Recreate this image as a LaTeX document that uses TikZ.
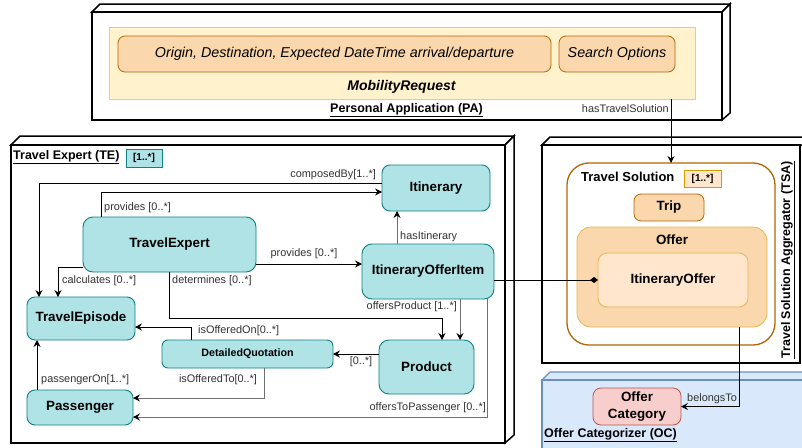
\documentclass[tikz,border=0pt]{standalone}
\usepackage{fontspec}
\setmainfont{Liberation Sans}
\usetikzlibrary{arrows.meta,calc}

\definecolor{tealfill}{HTML}{B0E3E6}
\definecolor{tealdraw}{HTML}{0E8088}
\definecolor{orfill}{HTML}{FAD7AC}
\definecolor{ordraw}{HTML}{B46504}
\definecolor{yelfill}{HTML}{FFF2CC}
\definecolor{yeldraw}{HTML}{E8CC80}
\definecolor{lightor}{HTML}{FFE6CC}
\definecolor{ordraw2}{HTML}{D79B00}
\definecolor{ioffdraw}{HTML}{E6B34D}
\definecolor{bluefill}{HTML}{DAE8FC}
\definecolor{bluedraw}{HTML}{6C8EBF}
\definecolor{redfill}{HTML}{F8CECC}
\definecolor{reddraw}{HTML}{B85450}
\definecolor{lblgray}{HTML}{333333}
\definecolor{linegray}{HTML}{707070}

\tikzset{
  tbox/.style={draw=tealdraw, fill=tealfill, rounded corners=8pt, line width=0.9pt,
    font=\fontsize{13.4pt}{16pt}\selectfont\bfseries, align=center, inner sep=0pt, outer sep=0pt},
  obox/.style={draw=ordraw, fill=orfill, rounded corners=7pt, line width=0.8pt, inner sep=0pt, outer sep=0pt},
  lbl/.style={font=\fontsize{10.9pt}{12pt}\selectfont, text=lblgray, inner sep=0pt},
  arr/.style={-{Stealth[length=7pt,width=7pt,inset=2.5pt]}, line width=0.8pt},
  garr/.style={arr, draw=linegray, -{Stealth[length=7pt,width=7pt,inset=2.5pt,color=black]}},
  cubeface/.style={draw=black, line width=1.5pt, fill=white, line join=miter},
  cubefront/.style={draw=black, line width=1.5pt, fill=white, inner sep=0pt, outer sep=0pt, anchor=north west},
  multbox/.style={inner sep=0pt, outer sep=0pt, font=\fontsize{10pt}{12pt}\selectfont\bfseries, line width=0.8pt},
  title/.style={font=\fontsize{12.5pt}{15pt}\selectfont\bfseries, inner sep=0pt},
}

\begin{document}
\begin{tikzpicture}[x=1pt,y=-1pt]
\useasboundingbox (0,0) rectangle (802,447);
\fill[white] (0,0) rectangle (802,447);

% ---------- Personal Application cube ----------
\draw[cubeface] (92,12) -- (100,4) -- (730,4) -- (722,12) -- cycle;
\draw[cubeface] (722,12) -- (730,4) -- (730,113) -- (722,120) -- cycle;
\node[cubefront, minimum width=630pt, minimum height=108pt] (pa) at (92,12) {};
\node[draw=yeldraw, fill=yelfill, line width=0.8pt, inner sep=0pt, outer sep=0pt,
      minimum width=586pt, minimum height=72pt, anchor=north west] (mreq) at (109,27) {};
\node[obox, minimum width=433pt, minimum height=36pt,
      font=\fontsize{14.3pt}{16pt}\selectfont\itshape] (origin) at (334.5,54)
      {Origin, Destination, Expected DateTime arrival/departure};
\node[obox, minimum width=116pt, minimum height=36pt,
      font=\fontsize{14.3pt}{16pt}\selectfont\itshape] (search) at (617,54) {Search Options};
\node[font=\fontsize{14pt}{16pt}\selectfont\bfseries\itshape, inner sep=0pt] (mreqlbl) at (401.5,87) {MobilityRequest};
\node[title] (palbl) at (406.5,110) {\underline{Personal Application (PA)}};

% ---------- Travel Expert cube ----------
\draw[cubeface] (11,145) -- (20,136) -- (514,136) -- (505,145) -- cycle;
\draw[cubeface] (505,145) -- (514,136) -- (514,435) -- (505,443) -- cycle;
\node[cubefront, minimum width=494pt, minimum height=298pt] (tebox) at (11,145) {};
\node[title, anchor=west] (telbl) at (13,157) {\underline{Travel Expert (TE)}};
\node[multbox, draw=tealdraw, fill=tealfill, minimum width=36pt, minimum height=18pt] (temult) at (144,158) {[1..*]};

% ---------- Travel Solution Aggregator cube ----------
\draw[cubeface] (542,145) -- (550,137) -- (812,137) -- (804,145) -- cycle;
\node[cubefront, minimum width=258pt, minimum height=218pt] (tsabox) at (542,145) {};
\node[title, rotate=90] (tsalbl) at (788,260) {\underline{Travel Solution Aggregator (TSA)}};
\node[draw=ordraw, fill=white, line width=1.3pt, rounded corners=22pt, inner sep=0pt, outer sep=0pt,
      minimum width=208pt, minimum height=182pt] (ts) at (671,254) {};
\node[font=\fontsize{13pt}{15pt}\selectfont\bfseries, inner sep=0pt, anchor=west] (tslbl) at (581,177) {Travel Solution};
\node[multbox, draw=ordraw2, fill=lightor, minimum width=37pt, minimum height=17pt] (tsmult) at (702.5,178.5) {[1..*]};
\node[obox, minimum width=70pt, minimum height=27pt, font=\fontsize{13.4pt}{16pt}\selectfont\bfseries] (trip) at (669,207.5) {Trip};
\node[draw=ordraw2!70, fill=orfill, line width=0.8pt, rounded corners=14pt, inner sep=0pt, outer sep=0pt,
      minimum width=190pt, minimum height=100pt] (offer) at (672,277) {};
\node[font=\fontsize{13.4pt}{16pt}\selectfont\bfseries, inner sep=0pt] (offerlbl) at (672,240) {Offer};
\node[draw=ioffdraw, fill=lightor, line width=0.8pt, rounded corners=9pt, inner sep=0pt, outer sep=0pt,
      minimum width=150pt, minimum height=54pt, font=\fontsize{13.4pt}{16pt}\selectfont\bfseries] (ioffer) at (673,280) {ItineraryOffer};

% ---------- Offer Categorizer ----------
\draw[draw=bluedraw, fill=bluefill, line width=1.3pt] (542,380) -- (550,372) -- (812,372) -- (804,380) -- cycle;
\draw[draw=bluedraw, fill=bluefill, line width=1.3pt] (542,380) rectangle (806,452);
\node[title, anchor=west] (oclbl) at (544,435) {\underline{Offer Categorizer (OC)}};
\node[draw=reddraw, fill=redfill, line width=0.8pt, rounded corners=8pt, inner sep=0pt, outer sep=0pt,
      minimum width=88pt, minimum height=37pt, align=center,
      font=\fontsize{13.4pt}{17pt}\selectfont\bfseries] (ocat) at (637,406.5) {Offer\\Category};

% ---------- TE nodes ----------
\node[tbox, minimum width=108pt, minimum height=46pt] (itin) at (436,188) {Itinerary};
\node[tbox, minimum width=173pt, minimum height=55pt, rounded corners=10pt] (te) at (169.5,244.5) {TravelExpert};
\node[tbox, minimum width=132pt, minimum height=55pt, rounded corners=10pt] (ioi) at (428,271.5) {ItineraryOfferItem};
\node[tbox, minimum width=108pt, minimum height=43pt] (tep) at (81,318.5) {TravelEpisode};
\node[tbox, minimum width=171pt, minimum height=28pt, rounded corners=6pt,
      font=\fontsize{10.7pt}{12pt}\selectfont\bfseries] (dq) at (247.5,354) {DetailedQuotation};
\node[tbox, minimum width=95pt, minimum height=54pt, rounded corners=10pt] (prod) at (426.5,367) {Product};
\node[tbox, minimum width=106pt, minimum height=35pt] (pass) at (80,407.5) {Passenger};

% ---------- connectors ----------
\coordinate (detcorner) at (442,318);

\draw[arr] ([yshift=5pt]itin.west) -| ([xshift=12pt]tep.north west);
\node[lbl, anchor=east] (lcomp) at (376,175) {composedBy[1..*]};

\draw[arr] ([xshift=18pt]te.north west) |- ([yshift=-4pt]itin.west);
\node[lbl, anchor=west] (lprov1) at (104,208) {provides [0..*]};

\draw[arr] ([yshift=5pt]te.south west) -| ([xshift=31pt]tep.north west);
\node[lbl, anchor=west] (lcalc) at (62,281) {calculates [0..*]};

\draw[arr] ([yshift=-19.5pt]te.east) -- ([yshift=-19.5pt]te.east -| ioi.west);
\node[lbl] (lprov2) at (304,254) {provides [0..*]};

\draw[garr] ([xshift=-31pt]ioi.north) -- ([xshift=-31pt]ioi.north |- itin.south);
\node[lbl, anchor=west] (lhas) at (400,237) {hasItinerary};

\draw[arr] (te.south) |- (detcorner) -- (detcorner |- prod.north);
\node[lbl, anchor=west] (ldet) at (172,281) {determines [0..*]};

\draw[garr] ([xshift=32pt]ioi.south) -- ([xshift=32pt]ioi.south |- prod.north);
\node[lbl, anchor=east] (loffp) at (457,307) {offersProduct [1..*]};

\draw[garr] ([xshift=59pt]ioi.south) |- ([yshift=-9.5pt]pass.east);
\node[lbl, anchor=east] (lotp) at (486,408) {offersToPassenger [0..*]};

\draw[arr] (prod.west |- dq.east) -- (dq.east);
\node[lbl] (l0n) at (361,362) {[0..*]};

\draw[arr] ([xshift=29pt]dq.north west) |- ([yshift=-8.5pt]tep.east);
\node[lbl, anchor=west] (lion) at (198,331) {isOfferedOn[0..*]};

\draw[garr] ([xshift=102pt]dq.south west) |- ([yshift=9.5pt]pass.east);
\node[lbl] (lito) at (218,380) {isOfferedTo[0..*]};

\draw[arr] ([xshift=10pt]pass.north west) -- ([xshift=10pt]tep.south west);
\node[lbl, anchor=west] (lpon) at (41,380) {passengerOn[1..*]};

\draw[line width=0.8pt, -{Diamond[length=8pt,width=6pt]}] (ioffer.west -| ioi.east) -- (ioffer.west);

\draw[arr] (ts.north |- mreq.south) -- (ts.north);
\node[lbl, anchor=east] (lhts) at (669,109) {hasTravelSolution};

\draw[arr] ([xshift=67pt]offer.south) |- (ocat.east);
\node[lbl, anchor=west] (lbel) at (687,399) {belongsTo};

\end{tikzpicture}
\end{document}
